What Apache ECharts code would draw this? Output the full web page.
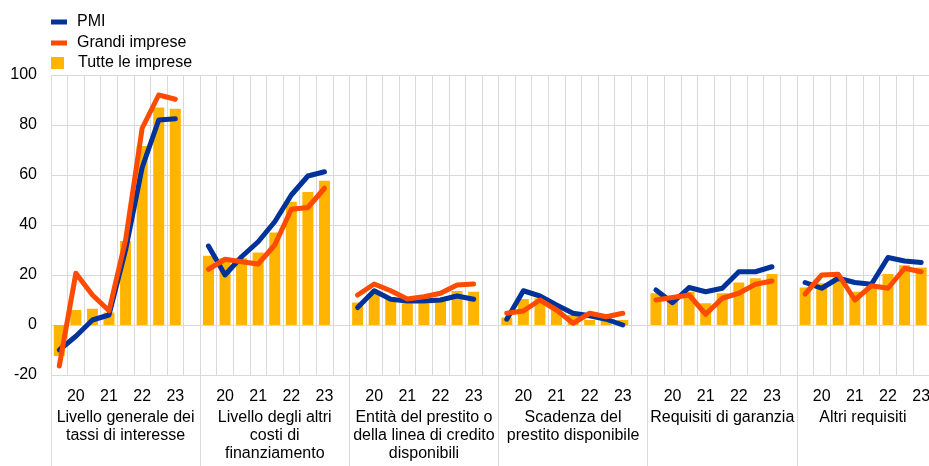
<!DOCTYPE html>
<html>
<head>
<meta charset="utf-8">
<script src="https://cdn.jsdelivr.net/npm/echarts@6/dist/echarts.min.js"></script>
<style>
    html, body { margin: 0; padding: 0; background: #fff; }
    #chart { width: 929px; height: 466px; }
</style>
</head>
<body>
<div id="chart"></div>
<script>
// categorie (gruppi) e anni
var groups = [
    'Livello generale dei\ntassi di interesse',
    'Livello degli altri\ncosti di\nfinanziamento',
    'Entità del prestito o\ndella linea di credito\ndisponibili',
    'Scadenza del\nprestito disponibile',
    'Requisiti di garanzia',
    'Altri requisiti'
];
var years = ['20', '21', '22', '23'];
var yTicks = [-20, 0, 20, 40, 60, 80, 100];

// valori semestrali, 8 per gruppo
var pmi = [
    [-10, -4.5, 2, 4, 30, 63, 82, 82.5],
    [31.6, 20, 27.3, 33.3, 41.3, 52, 59.6, 61.3],
    [7, 13.7, 10.3, 9.6, 9.6, 10, 11.6, 10.3],
    [2.3, 13.7, 11.6, 8, 4.7, 3.7, 2.3, 0],
    [14, 8.9, 15, 13.3, 14.7, 21.3, 21.3, 23.3],
    [17, 14.7, 18.7, 17, 16.3, 27, 25.6, 25]
];
var grandi = [
    [-16.4, 20.7, 12, 5.7, 34, 78.7, 92, 90.3],
    [22.3, 26.3, 25.3, 24.4, 32, 46.3, 47, 54.7],
    [12, 16.4, 13.7, 10.4, 11.3, 12.7, 16, 16.4],
    [4.7, 5.6, 10, 6, 0.7, 4.7, 3.3, 4.7],
    [10, 11, 12, 4.3, 10.7, 12.7, 16.3, 17.6],
    [12.4, 20, 20.3, 10, 15.7, 14.7, 22.7, 21.3]
];
var tutte = [
    [-12.4, 6, 6.5, 5, 33.6, 71.6, 87, 86.5],
    [27.7, 26.7, 26.7, 29, 37, 49.3, 53.2, 57.7],
    [9, 12.7, 10.7, 8.7, 8.7, 9.3, 13.6, 13.3],
    [3, 10.4, 10.7, 6, 4, 2, 2, 2],
    [12.7, 11.3, 13.3, 8.7, 12.7, 17, 18.7, 20.4],
    [15, 16.7, 19, 13.3, 15.3, 20.4, 23.9, 23]
];

// un vuoto dopo ogni gruppo
function flatten(rows) {
    var out = [];
    rows.forEach(function (r) {
        out = out.concat(r);
        out.push(null);
    });
    return out;
}

var cats = [];
var catLabels = {};
groups.forEach(function (g, gi) {
    for (var i = 0; i < 9; i++) {
        var key = 'c' + gi + '_' + i;
        cats.push(key);
        catLabels[key] = (i % 2 === 1 && i < 8) ? years[(i - 1) / 2] : '';
    }
});

var blue = '#003299', orange = '#ff4b00', yellow = '#ffb400';
var gridColor = '#d9d9d9';

var chart = echarts.init(document.getElementById('chart'));

function legendItem(name, top, w, h, pad) {
    return {
        data: [name],
        orient: 'vertical',
        left: 51,
        top: top,
        padding: 0,
        icon: 'rect',
        itemWidth: w,
        itemHeight: h,
        selectedMode: false,
        textStyle: { fontSize: 16, color: '#000', lineHeight: 16, padding: [0, 0, 0, pad] }
    };
}

var option = {
    animation: false,
    textStyle: { fontFamily: 'Liberation Sans, Arial, sans-serif' },
    legend: [
        legendItem('PMI', 14, 16, 5, 5),
        legendItem('Grandi imprese', 35, 16, 5, 5),
        legendItem('Tutte le imprese', 55, 13, 12, 9)
    ],
    grid: { left: 51, top: 75, width: 895, height: 300, outerBoundsMode: 'none' },
    xAxis: [
        {
            type: 'category',
            position: 'bottom',
            data: cats,
            axisLine: { show: false },
            axisTick: { show: false },
            axisLabel: {
                interval: 0,
                margin: 14,
                fontSize: 16,
                color: '#000',
                hideOverlap: false,
                formatter: function (v) { return catLabels[v]; }
            },
            splitLine: { show: true, interval: 0, lineStyle: { color: gridColor, width: 1 } }
        },
        {
            type: 'category',
            position: 'bottom',
            data: groups,
            axisLine: { show: false },
            axisTick: { show: true, interval: 0, length: 92, lineStyle: { color: gridColor } },
            axisLabel: {
                interval: 0,
                margin: 34,
                fontSize: 16,
                lineHeight: 18,
                color: '#000',
                formatter: function (v, i) {
                    return i === groups.length - 1 ? '{last|' + v + '}' : v;
                },
                rich: {
                    last: { fontSize: 16, color: '#000', padding: [0, 17, 0, 0] }
                }
            },
            splitLine: { show: false }
        }
    ],
    yAxis: {
        type: 'value',
        min: yTicks[0],
        max: yTicks[yTicks.length - 1],
        interval: 20,
        axisLine: { show: false },
        axisTick: { show: false },
        axisLabel: { fontSize: 16, color: '#000', margin: 14 },
        splitLine: { lineStyle: { color: gridColor, width: 1 } }
    },
    series: [
        {
            name: 'Tutte le imprese',
            type: 'bar',
            data: flatten(tutte),
            barWidth: 11,
            itemStyle: { color: yellow }
        },
        {
            name: 'PMI',
            type: 'line',
            data: flatten(pmi),
            symbol: 'none',
            color: blue,
            lineStyle: { color: blue, width: 5, cap: 'round', join: 'round' }
        },
        {
            name: 'Grandi imprese',
            type: 'line',
            data: flatten(grandi),
            symbol: 'none',
            color: orange,
            lineStyle: { color: orange, width: 5, cap: 'round', join: 'round' }
        }
    ]
};

chart.setOption(option);
window.addEventListener('resize', function () {
    chart.resize();
});
</script>
</body>
</html>
